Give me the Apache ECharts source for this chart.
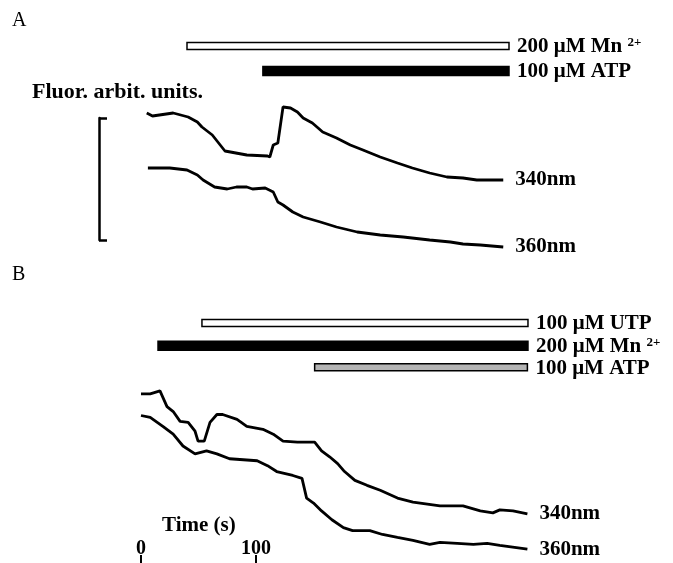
<!DOCTYPE html>
<html>
<head>
<meta charset="utf-8">
<script src="https://cdn.jsdelivr.net/npm/echarts@6/dist/echarts.min.js"></script>
<style>html,body{margin:0;padding:0;background:#fff}#c{width:673px;height:563px}</style>
</head>
<body>
<div id="c"></div>
<script>
// ---- Data (time in s, fluorescence in arbitrary units) ----
const traceA340 = [[5,127],[10,124],[28,127],[41,123],[49,118],[53,113],[62,105],[73,89],[92,85],[110,84],[112,83],[115,95],[119,97],[123.5,133],[130,132],[136,128],[141,122],[149,117],[158,108],[170,102],[182,95],[193,90],[208,83],[223,77],[236,72],[251,67],[266,63],[280,62],[292,60],[315,60]];
const traceA360 = [[6,72],[25,72],[40,70],[49,65],[54,60],[64,53],[75,51],[83,53],[92,53],[97,51],[108,52],[115,48],[119,38],[123.5,35],[132,28],[141,23],[156,18],[170,13],[188,8],[208,5],[228,3],[251,0],[269,-2],[280,-4],[295,-5],[315,-7]];
const traceB340 = [[0,172],[8,172],[16.5,175],[22.6,159],[28,154],[34,144],[41,143],[47,134],[49.6,124],[55,124],[60,143],[66,151],[71,151],[83.5,146],[92,139],[106,136],[115,131],[123.5,124],[136,123],[151,123],[157,114],[164,108],[171,101],[177,93],[186,84],[196.5,79],[208,74],[223,66],[236.5,62],[260,58],[280,58],[295,53],[306,51],[312,54],[323.5,53],[336,50]];
const traceB360 = [[0,150],[8,148],[19,139],[28,131],[36.5,119],[47,111],[57,114],[66,111],[77,106],[101,104],[110,99],[118,93],[132,89],[140,86],[144,66],[150,61],[157,53],[166,44],[176,36],[184,33],[199,33],[210,29],[223,26],[236.5,23],[251,19],[260,21],[275,20],[289,19],[301,20],[312,18],[336,14]];

// stimulus bars: [start s, end s, level]
const stimA = [[40,320,194],[106,320,169]];
const stimALabels = ['{m|200 μM Mn }{s|2+}', '{m|100 μM ATP}'];
const stimB = [[53,336.5,244],[14.8,336.5,221],[151,336,199]];
const stimBLabels = ['{m|100 μM UTP}', '{m|200 μM Mn }{s|2+}', '{m|100 μM ATP}'];
const timeTicks = [0, 100];
const scaleBar = [0, 122];

// ---- Styles ----
const stimAFill = ['#ffffff', '#000000'];
const stimAHeight = [7, 9];
const stimBFill = ['#ffffff', '#000000', '#b4b4b4'];
const stimBHeight = [7, 9, 7];
const FONT = 'Liberation Serif';

function makeBarRender(fills, heights, labels) {
  return function (params, api) {
    const i = params.dataIndex;
    const s = api.coord([api.value(0), api.value(2)]);
    const e = api.coord([api.value(1), api.value(2)]);
    const h = heights[i];
    return {
      type: 'group',
      children: [
        { type: 'rect', shape: { x: s[0], y: s[1] - h / 2, width: e[0] - s[0], height: h },
          style: { fill: fills[i], stroke: '#000', lineWidth: 1.5 } },
        { type: 'text', x: e[0] + 8, y: s[1] + 1,
          style: { text: labels[i], verticalAlign: 'middle', align: 'left', fill: '#000',
            rich: {
              m: { fontFamily: FONT, fontWeight: 'bold', fontSize: 21, fill: '#000', lineHeight: 22 },
              s: { fontFamily: FONT, fontWeight: 'bold', fontSize: 13, fill: '#000', verticalAlign: 'top', lineHeight: 22 }
            } } }
      ]
    };
  };
}

function lineSeries(name, data, xi, yi) {
  return {
    type: 'line', name: name, data: data, xAxisIndex: xi, yAxisIndex: yi,
    showSymbol: false, clip: false, animation: false, silent: true,
    lineStyle: { color: '#000', width: 2.8 },
    endLabel: { show: true, formatter: '{a}', distance: 12, color: '#000',
      fontFamily: FONT, fontWeight: 'bold', fontSize: 21 }
  };
}

const chart = echarts.init(document.getElementById('c'));
chart.setOption({
  animation: false,
  backgroundColor: '#fff',
  grid: [
    { left: 141, top: 118, width: 391, height: 122 },
    { left: 141, top: 386, width: 391, height: 180 },
    { left: 99, top: 118, width: 20, height: 122 }
  ],
  xAxis: [
    { gridIndex: 0, type: 'value', min: 0, max: 340, show: false },
    { gridIndex: 1, type: 'value', min: 0, max: 340, interval: 100,
      axisLine: { show: false },
      splitLine: { show: false },
      axisTick: { show: true, inside: true, length: 8, customValues: timeTicks, lineStyle: { color: '#000', width: 2 } },
      axisLabel: { show: true, inside: true, margin: 4, customValues: timeTicks, color: '#000',
        fontFamily: FONT, fontWeight: 'bold', fontSize: 20 } },
    { gridIndex: 2, type: 'value', min: 0, max: 1, show: false }
  ],
  yAxis: [
    { gridIndex: 0, type: 'value', min: 0, max: 122, show: false },
    { gridIndex: 1, type: 'value', min: 0, max: 180, show: false },
    { gridIndex: 2, type: 'value', min: scaleBar[0], max: scaleBar[1], interval: 122, position: 'left',
      axisLine: { show: true, lineStyle: { color: '#000', width: 2.5 } },
      axisTick: { show: true, inside: true, length: 8, lineStyle: { color: '#000', width: 2.5 } },
      axisLabel: { show: false }, splitLine: { show: false } }
  ],
  graphic: [
    { type: 'text', left: 12, top: 11, style: { text: 'A', fontFamily: FONT, fontSize: 20, fill: '#000' } },
    { type: 'text', left: 12, top: 265, style: { text: 'B', fontFamily: FONT, fontSize: 20, fill: '#000' } },
    { type: 'text', left: 32, top: 81, style: { text: 'Fluor. arbit. units.', fontFamily: FONT, fontWeight: 'bold', fontSize: 22, fill: '#000' } },
    { type: 'text', left: 162, top: 515, style: { text: 'Time (s)', fontFamily: FONT, fontWeight: 'bold', fontSize: 21, fill: '#000' } }
  ],
  series: [
    lineSeries('340nm', traceA340, 0, 0),
    lineSeries('360nm', traceA360, 0, 0),
    lineSeries('340nm', traceB340, 1, 1),
    lineSeries('360nm', traceB360, 1, 1),
    { type: 'custom', xAxisIndex: 0, yAxisIndex: 0, clip: false, silent: true,
      renderItem: makeBarRender(stimAFill, stimAHeight, stimALabels), data: stimA },
    { type: 'custom', xAxisIndex: 1, yAxisIndex: 1, clip: false, silent: true,
      renderItem: makeBarRender(stimBFill, stimBHeight, stimBLabels), data: stimB }
  ]
});
</script>
</body>
</html>
